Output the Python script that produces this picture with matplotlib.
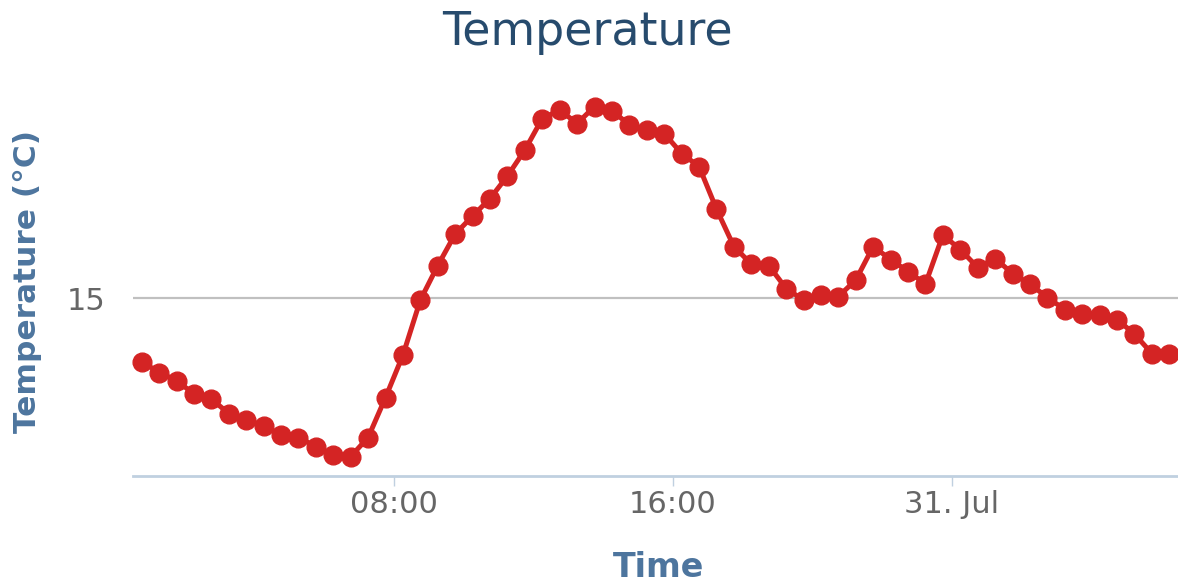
import numpy as np
import matplotlib
matplotlib.use("Agg")
import matplotlib.pyplot as plt
import matplotlib.dates as mdates
from matplotlib.ticker import FuncFormatter, FixedLocator
import datetime as dt

# readings every half hour, from 30 Jul 00:45
start = dt.datetime(2013, 7, 30, 0, 45)
temps = [13.73, 13.51, 13.35, 13.08, 12.98, 12.69, 12.56, 12.45, 12.26, 12.21,
         12.03, 11.86, 11.83, 12.21, 13.01, 13.86, 14.96, 15.65, 16.28, 16.64,
         16.99, 17.44, 17.96, 18.59, 18.76, 18.49, 18.83, 18.75, 18.46, 18.35,
         18.29, 17.89, 17.63, 16.78, 16.03, 15.68, 15.65, 15.19, 14.96, 15.06,
         15.03, 15.36, 16.03, 15.77, 15.53, 15.28, 16.26, 15.97, 15.61, 15.79,
         15.49, 15.28, 15.01, 14.77, 14.69, 14.66, 14.57, 14.28, 13.89, 13.88]
times = [start + dt.timedelta(minutes=30 * i) for i in range(len(temps))]
x_ticks = [dt.datetime(2013, 7, 30, 8), dt.datetime(2013, 7, 30, 16), dt.datetime(2013, 7, 31, 0)]
y_ticks = [15]

plt.rcParams['font.family'] = ['DejaVu Sans']

W, H = 1178, 583
fig = plt.figure(figsize=(W / 100, H / 100), dpi=100)
ax = fig.add_axes([133 / W, 1 - 476 / H, 1045 / W, 381 / H])

ax.plot(times, temps, color='#d42424', lw=3.6, marker='o', ms=13.5, zorder=3, clip_on=False)

ax.set_xlim(dt.datetime(2013, 7, 30, 0, 30), dt.datetime(2013, 7, 31, 6, 30))
ax.set_ylim(15 - 178 / 50, 15 + 203 / 50)

ax.xaxis.set_major_locator(FixedLocator(mdates.date2num(x_ticks)))
def fmt(v, pos):
    d = mdates.num2date(v)
    if d.hour == 0 and d.minute == 0:
        return d.strftime('%d. %b').lstrip('0')
    return d.strftime('%H:%M')
ax.xaxis.set_major_formatter(FuncFormatter(fmt))
ax.set_yticks(y_ticks)

for s in ['top', 'right', 'left']:
    ax.spines[s].set_visible(False)
ax.spines['bottom'].set_color('#c0d0e0')
ax.spines['bottom'].set_linewidth(2)
ax.grid(axis='y', color='#c0c0c0', lw=1.6)
ax.set_axisbelow(True)
ax.tick_params(axis='x', length=7, width=1, color='#c0d0e0', labelsize=22, labelcolor='#666666', pad=3)
ax.tick_params(axis='y', length=0, labelsize=22, labelcolor='#666666', pad=20)

fig.text(587 / W, 1 - 45 / H, 'Temperature', ha='center', va='baseline', fontsize=33, color='#274b6d')
fig.text(659 / W, 1 - 577 / H, 'Time', ha='center', va='baseline', fontsize=24, fontweight='bold', color='#4d759e')
fig.text(28 / W, 1 - 281 / H, 'Temperature (°C)', ha='center', va='center', rotation=90,
         fontsize=22.5, fontweight='bold', color='#4d759e')

fig.savefig('out.png', dpi=100)
